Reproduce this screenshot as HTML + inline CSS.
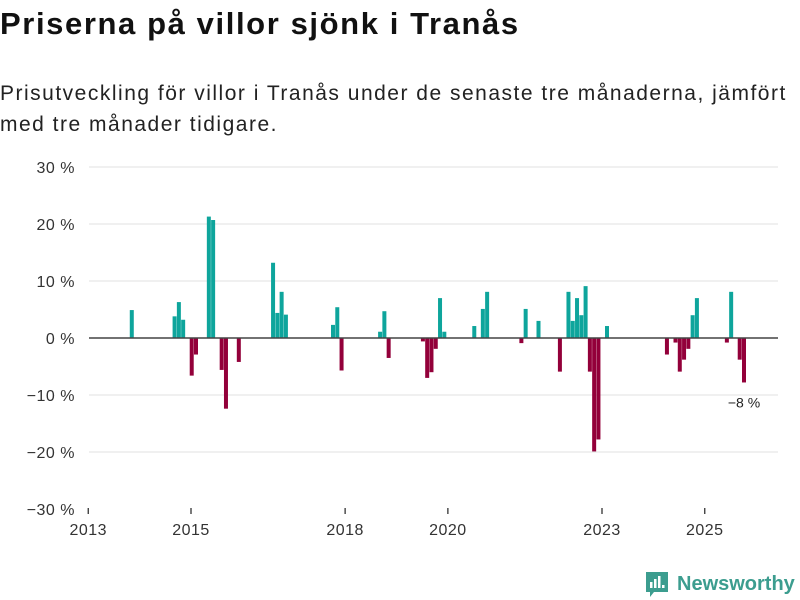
<!DOCTYPE html>
<html><head><meta charset="utf-8"><style>
body{margin:0;background:#fff;width:800px;height:600px;overflow:hidden;font-family:"Liberation Sans","DejaVu Sans",sans-serif;}
h1{position:absolute;left:0;top:6px;margin:0;font-size:31px;font-weight:bold;color:#111;letter-spacing:1.6px;white-space:nowrap;}
.sub{position:absolute;left:0;top:78px;font-size:21px;line-height:31px;color:#222;width:800px;letter-spacing:1.5px;white-space:nowrap;}
svg{position:absolute;left:0;top:0;}
</style></head><body>
<h1>Priserna på villor sjönk i Tranås</h1>
<div class="sub">Prisutveckling för villor i Tranås under de senaste tre månaderna, jämfört<br>med tre månader tidigare.</div>
<svg id="chart" width="800" height="600"></svg>
<script>
const monthIndex=[9,19,20,21,23,24,27,28,30,31,34,42,43,44,45,56,57,58,67,68,69,77,78,79,80,81,82,89,91,92,100,101,104,109,111,112,113,114,115,116,117,118,120,134,136,137,138,139,140,141,148,149,151,152];
const values=[4.9,3.8,6.3,3.2,-6.6,-2.9,21.3,20.7,-5.6,-12.4,-4.2,13.2,4.4,8.1,4.1,2.3,5.4,-5.7,1.1,4.7,-3.5,-0.6,-7,-6,-1.9,7,1.1,2.1,5.1,8.1,-0.9,5.1,3,-5.9,8.1,3,7,4,9.1,-5.9,-19.9,-17.8,2.1,-2.9,-0.8,-5.9,-3.8,-1.9,4,7,-0.8,8.1,-3.8,-7.8];
const yTicks=[30,20,10,0,-10,-20,-30];
const yTickLabels=["30 %","20 %","10 %","0 %","−10 %","−20 %","−30 %"];
const xTicks=[2013,2015,2018,2020,2023,2025];
const lastLabel="−8 %";
const svg=document.getElementById('chart');
const NS='http://www.w3.org/2000/svg';
const y=v=>338-v*5.7;
const xYear=yr=>88.25+(yr-2013)*51.375;
const xMonth=i=>xYear(2013+i/12)+3;
function mk(tag,attrs,parent){const e=document.createElementNS(NS,tag);for(const k in attrs)e.setAttribute(k,attrs[k]);(parent||svg).appendChild(e);return e;}
yTicks.forEach((t,i)=>{
  if(t!==0&&t!==-30){const g=mk('line',{x1:89,x2:778,y1:y(t),y2:y(t),stroke:'#e0e0e0','stroke-width':1});
  
  }
  const l=mk('text',{x:75,y:y(t)+6,'text-anchor':'end','font-size':16,fill:'#333','letter-spacing':'0.5','font-family':'Liberation Sans, DejaVu Sans, sans-serif'});
  l.textContent=yTickLabels[i];
  
  
});
xTicks.forEach(t=>{
  const tk=mk('line',{x1:xYear(t),x2:xYear(t),y1:508,y2:514,stroke:'#333','stroke-width':1.3});
  
  
  const l=mk('text',{x:xYear(t),y:535,'text-anchor':'middle','font-size':16,fill:'#333','letter-spacing':'0.5','font-family':'Liberation Sans, DejaVu Sans, sans-serif'});
  l.textContent=t;
  
  
});
monthIndex.forEach((m,i)=>{
  const v=values[i];
  const b=mk('rect',{x:xMonth(m),width:4,y:v>=0?y(v):y(0),height:Math.abs(y(v)-y(0)),fill:v>=0?'#0ea59c':'#93003a'});
  
  
});
const base=mk('line',{x1:89,x2:778,y1:y(0),y2:y(0),stroke:'#444','stroke-width':1.6});


const li=monthIndex.length-1;
const lab=mk('text',{x:xMonth(monthIndex[li])+2,y:y(values[li])+25,'text-anchor':'middle','font-size':14,fill:'#222','font-family':'Liberation Sans, DejaVu Sans, sans-serif'});
lab.textContent=lastLabel;


</script>
<svg width="800" height="600" style="pointer-events:none">
<path d="M646 572 h22 v20 h-14 l-4 5 v-5 h-4 z" fill="#3c9d8f"/>
<rect x="650" y="582" width="2.5" height="6" fill="#fff"/><rect x="654" y="579" width="2.5" height="9" fill="#fff"/><rect x="658" y="576" width="2.5" height="12" fill="#fff"/><rect x="662" y="585" width="2.5" height="3" fill="#fff"/>
<text x="677" y="590" font-size="20" font-weight="bold" fill="#3c9d8f" font-family="Liberation Sans, DejaVu Sans, sans-serif">Newsworthy</text>
</svg>
</body></html>
